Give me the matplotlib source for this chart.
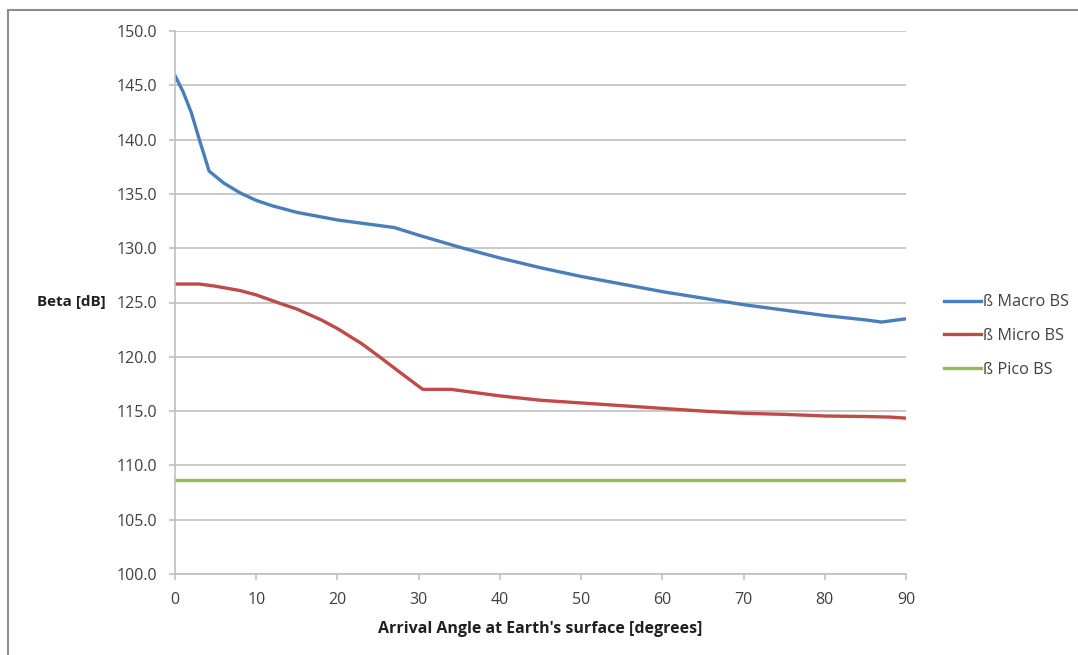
import matplotlib
matplotlib.use('Agg')
import matplotlib.pyplot as plt
from matplotlib.patches import Rectangle

# data
macro_angle = [0, 1, 2, 3, 4.2, 6, 8, 10, 12, 15, 20, 25, 27, 30, 35, 40, 45,
               50, 55, 60, 65, 70, 75, 80, 85, 87, 90]
macro_beta = [145.9, 144.4, 142.5, 140.0, 137.1, 136.0, 135.1, 134.4, 133.9,
              133.3, 132.6, 132.1, 131.9, 131.2, 130.1, 129.1, 128.2, 127.4,
              126.7, 126.0, 125.4, 124.8, 124.3, 123.8, 123.4, 123.2, 123.5]

micro_angle = [0, 3, 5, 8, 10, 13, 15, 18, 20, 23, 25, 28, 30.5, 34, 37, 40,
               45, 50, 55, 60, 65, 70, 75, 80, 85, 88, 90]
micro_beta = [126.7, 126.7, 126.5, 126.1, 125.7, 124.9, 124.4, 123.4, 122.6,
              121.2, 120.1, 118.4, 117.0, 117.0, 116.7, 116.4, 116.0, 115.75,
              115.5, 115.25, 115.0, 114.8, 114.7, 114.55, 114.5, 114.45, 114.35]

pico_angle = [0, 90]
pico_beta = [108.7, 108.7]

x_ticks = [0, 10, 20, 30, 40, 50, 60, 70, 80, 90]
y_ticks = [100, 105, 110, 115, 120, 125, 130, 135, 140, 145, 150]

plt.rcParams['font.family'] = ['Open Sans', 'DejaVu Sans']
txt = '#404040'
grid = '#c0c0c0'

fig = plt.figure(figsize=(10.78, 6.55), dpi=100)
ax = fig.add_axes([175/1078, 1 - 574/655, (906 - 175)/1078, (574 - 31)/655])

ax.plot(macro_angle, macro_beta, color='#4a7ebb', lw=2.4, label='ß Macro BS')
ax.plot(micro_angle, micro_beta, color='#be4b48', lw=2.4, label='ß Micro BS')
ax.plot(pico_angle, pico_beta, color='#98b954', lw=2.4, label='ß Pico BS')

ax.set_xlim(0, 90)
ax.set_ylim(100, 150)
ax.set_xticks(x_ticks)
ax.set_yticks(y_ticks)
ax.set_yticklabels(['%.1f' % v for v in y_ticks])
ax.tick_params(colors=grid, labelcolor=txt, labelsize=11.5, length=4, width=1.2)
ax.tick_params(axis='y', pad=9)
ax.tick_params(axis='x', pad=9)
ax.grid(axis='y', color=grid, lw=1.2)
ax.set_axisbelow(True)
for s in ['top', 'right']:
    ax.spines[s].set_visible(False)
for s in ['left', 'bottom']:
    ax.spines[s].set_color(grid)
    ax.spines[s].set_linewidth(1.2)

ax.set_xlabel("Arrival Angle at Earth's surface [degrees]", fontsize=11.5,
              fontweight='bold', color='#202020', labelpad=9)
fig.text(37/1078, 1 - 302/655, 'Beta [dB]', fontsize=11, fontweight='bold',
         color='#202020', va='center', ha='left')

ax.legend(loc='center left', bbox_to_anchor=(929/1078, 1 - 336/655),
          bbox_transform=fig.transFigure, frameon=False, fontsize=11.7,
          handlelength=2.3, handletextpad=0.1, labelspacing=1.08,
          labelcolor=txt)

# outer chart frame (only left/top edges visible in the crop)
fig.patches.append(Rectangle((8/1078, -0.1), 1.2, 1 - 10/655 + 0.1,
                             transform=fig.transFigure, fill=False,
                             edgecolor='#8c8c8c', lw=1.5))

fig.savefig('out.png', dpi=100)
